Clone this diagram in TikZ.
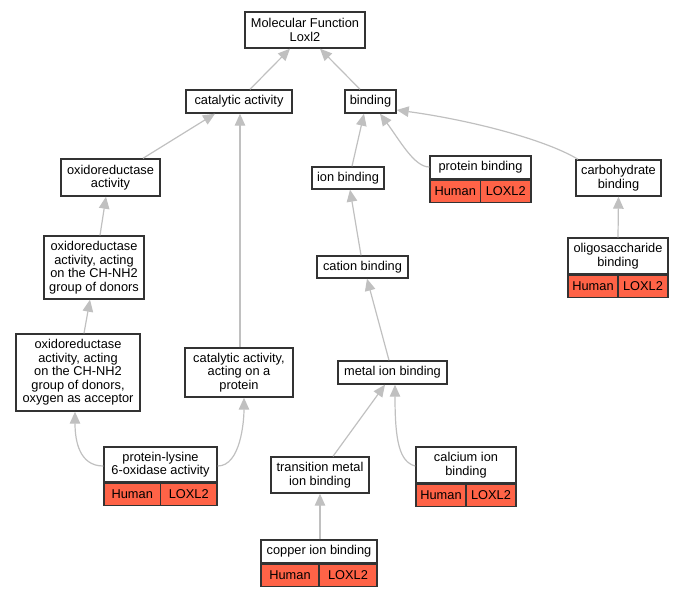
\documentclass[tikz,border=0pt]{standalone}
\usepackage{fontspec}
\setmainfont{Liberation Sans}
\usetikzlibrary{arrows.meta}
\definecolor{bordercol}{HTML}{333333}
\definecolor{edgecol}{HTML}{C0C0C0}
\definecolor{genecol}{HTML}{FF6347}
\tikzset{
  box/.style={draw=bordercol, line width=1.4pt, fill=white, inner sep=0pt, align=center,
    font=\fontsize{12.8}{13.5}\selectfont},
  cell/.style={draw=bordercol, line width=1.4pt, fill=genecol, inner sep=0pt,
    minimum height=22pt, font=\fontsize{12.8}{13.5}\selectfont},
  edge/.style={draw=edgecol, line width=1.2pt, -{Triangle[length=12pt,width=10.5pt]}}
}
\begin{document}
\begin{tikzpicture}[x=1pt,y=-1pt]
\useasboundingbox (0,0) rectangle (683,595);
% plain nodes
\node[box, minimum width=120pt, minimum height=36pt] (mf) at (305,30) {Molecular Function\\Loxl2};
\node[box, minimum width=106pt, minimum height=23pt] (cat) at (239,101.5) {catalytic activity};
\node[box, minimum width=51pt, minimum height=23pt] (bind) at (370.5,101.5) {binding};
\node[box, minimum width=99pt, minimum height=37pt] (oxact) at (110.5,177.5) {oxidoreductase\\activity};
\node[box, minimum width=72pt, minimum height=22pt] (ion) at (348,178) {ion binding};
\node[box, minimum width=100pt, minimum height=63pt] (chnh) at (94,267.5) {oxidoreductase\\activity, acting\\on the CH-NH2\\group of donors};
\node[box, minimum width=91pt, minimum height=22pt] (cation) at (362.5,267) {cation binding};
\node[box, minimum width=85pt, minimum height=36pt] (carb) at (618.5,178) {carbohydrate\\binding};
\node[box, minimum width=124pt, minimum height=77pt] (oxy) at (78,372.5) {oxidoreductase\\activity, acting\\on the CH-NH2\\group of donors,\\oxygen as acceptor};
\node[box, minimum width=108pt, minimum height=49pt] (catprot) at (239,372.5) {catalytic activity,\\acting on a\\protein};
\node[box, minimum width=109pt, minimum height=23pt] (metal) at (392.5,372.5) {metal ion binding};
\node[box, minimum width=98pt, minimum height=36pt] (trans) at (320,475) {transition metal\\ion binding};
% annotated nodes
\node[box, minimum width=101pt, minimum height=23pt] (pbind) at (480.5,167.5) {protein binding};
\node[cell, minimum width=50.5pt, anchor=north west] (pbindH) at (pbind.south west) {Human};
\node[cell, minimum width=50.5pt, anchor=north east] (pbindL) at (pbind.south east) {LOXL2};
\node[box, minimum width=100pt, minimum height=36pt] (oligo) at (618,256) {oligosaccharide\\binding};
\node[cell, minimum width=50pt, anchor=north west] (oligoH) at (oligo.south west) {Human};
\node[cell, minimum width=50pt, anchor=north east] (oligoL) at (oligo.south east) {LOXL2};
\node[box, minimum width=113pt, minimum height=35pt] (plys) at (160.5,464.5) {protein-lysine\\6-oxidase activity};
\node[cell, minimum width=56.5pt, anchor=north west] (plysH) at (plys.south west) {Human};
\node[cell, minimum width=56.5pt, anchor=north east] (plysL) at (plys.south east) {LOXL2};
\node[box, minimum width=100pt, minimum height=36pt] (calc) at (466,465) {calcium ion\\binding};
\node[cell, minimum width=50pt, anchor=north west] (calcH) at (calc.south west) {Human};
\node[cell, minimum width=50pt, anchor=north east] (calcL) at (calc.south east) {LOXL2};
\node[box, minimum width=116pt, minimum height=23pt] (copper) at (319,551.5) {copper ion binding};
\node[cell, minimum width=58pt, anchor=north west] (copperH) at (copper.south west) {Human};
\node[cell, minimum width=58pt, anchor=north east] (copperL) at (copper.south east) {LOXL2};
% edges
\draw[edge] ([xshift=11pt]cat.north) -- ([xshift=-15pt]mf.south);
\draw[edge] ([xshift=-10.5pt]bind.north) -- ([xshift=15pt]mf.south);
\draw[edge] ([xshift=32.5pt]oxact.north) -- ([xshift=-24pt]cat.south);
\draw[edge] ([xshift=1pt]catprot.north) -- ([xshift=1pt]cat.south);
\draw[edge] ([xshift=4pt]ion.north) -- ([xshift=-6.5pt]bind.south);
\draw[edge] ([yshift=0.5pt]pbind.west) .. controls +(-15,0) and +(20,27) .. ([xshift=9.5pt]bind.south);
\draw[edge] ([xshift=-40.5pt]carb.north) .. controls +(-33,-20) and +(73,10) .. ([yshift=-8.5pt]bind.east);
\draw[edge] (oligo.north) -- (carb.south);
\draw[edge] ([xshift=6pt]chnh.north) -- ([xshift=-4.5pt]oxact.south);
\draw[edge] ([xshift=6pt]oxy.north) -- ([xshift=-4pt]chnh.south);
\draw[edge] ([yshift=-1.5pt]plys.west) .. controls +(-24,0) and +(0,29) .. ([xshift=-3pt]oxy.south);
\draw[edge] ([yshift=-1.5pt]plys.east) .. controls +(23,0) and +(0,23) .. ([xshift=5pt]catprot.south);
\draw[edge] ([xshift=-1.5pt]cation.north) -- ([xshift=2pt]ion.south);
\draw[edge] ([xshift=-3.5pt]metal.north) -- ([xshift=4.5pt]cation.south);
\draw[edge] ([xshift=13pt]trans.north) -- ([xshift=-7.5pt]metal.south);
\draw[edge] ([yshift=-1pt]calc.west) .. controls +(-16,-4) and +(0,56) .. ([xshift=2.5pt]metal.south);
\draw[edge] ([xshift=1pt]copper.north) -- (trans.south);
\end{tikzpicture}
\end{document}
